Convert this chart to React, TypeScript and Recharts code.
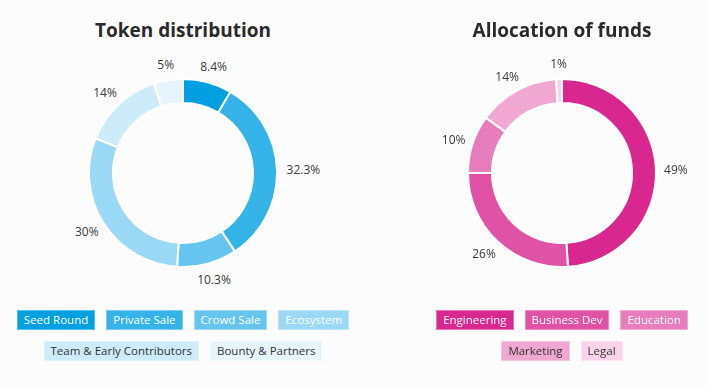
import { PieChart, Pie, Cell } from "recharts";

const tokenNames = ["Seed Round", "Private Sale", "Crowd Sale", "Ecosystem", "Team & Early Contributors", "Bounty & Partners"];
const tokenValues = [8.4, 32.3, 10.3, 30, 14, 5];
const tokenColors = ["#00a0e0", "#33b3e8", "#66c5ee", "#99d9f5", "#cdecf9", "#e6f5fc"];
const tokenTextColors = ["#fff", "#fff", "#fff", "#fff", "#333", "#333"];

const fundNames = ["Engineering", "Business Dev", "Education", "Marketing", "Legal"];
const fundValues = [49, 26, 10, 14, 1];
const fundColors = ["#d8278f", "#e052a5", "#e77dbc", "#f0a8d2", "#f8d3e9"];
const fundTextColors = ["#fff", "#fff", "#fff", "#333", "#333"];

const RADIAN = Math.PI / 180;
const FONT = "'Open Sans', sans-serif";

const renderLabel = (props: any) => {
    const { cx, cy, midAngle, outerRadius, value } = props;
    const text = `${value}%`;
    const halfW = text.length * 3.3;
    const cos = Math.cos(-midAngle * RADIAN);
    const sin = Math.sin(-midAngle * RADIAN);
    const r = outerRadius + 10;
    const x = cx + r * cos + halfW * cos;
    const y = cy + r * sin + 6 * sin;
    return (
        <text x={x} y={y} textAnchor="middle" dominantBaseline="central" fill="#3a3a3a" fontSize={12} fontFamily={FONT}>
            {text}
        </text>
    );
};

const Donut = ({ title, names, values, colors, textColors, left, legendWidth }: any) => {
    const data = names.map((name: string, i: number) => ({ name, value: values[i] }));
    return (
        <div style={{ position: "absolute", left, top: 0, width: 350, fontFamily: FONT }}>
            <div style={{ textAlign: "center", fontSize: 19, fontWeight: 700, color: "#2a2a2a", marginTop: 17, lineHeight: "27px" }}>
                {title}
            </div>
            <PieChart width={350} height={254} margin={{ top: 0, right: 0, bottom: 0, left: 0 }}>
                <Pie
                    data={data}
                    dataKey="value"
                    cx={175}
                    cy={129}
                    innerRadius={70}
                    outerRadius={94}
                    startAngle={90}
                    endAngle={-270}
                    stroke="#fff"
                    strokeWidth={2}
                    label={renderLabel}
                    labelLine={false}
                    isAnimationActive={false}
                >
                    {data.map((_: any, i: number) => (
                        <Cell key={`cell-${i}`} fill={colors[i]} />
                    ))}
                </Pie>
            </PieChart>
            <div
                style={{
                    display: "flex",
                    flexWrap: "wrap",
                    justifyContent: "center",
                    columnGap: "11px",
                    rowGap: "11px",
                    marginTop: 12,
                    width: legendWidth,
                    marginLeft: (350 - legendWidth) / 2,
                }}
            >
                {names.map((name: string, i: number) => (
                    <div
                        key={name}
                        style={{
                            background: colors[i],
                            color: textColors[i],
                            fontSize: 11.5,
                            lineHeight: "18px",
                            padding: "0 6px",
                            border: "1px solid rgba(255,255,255,0.35)",
                            whiteSpace: "nowrap",
                        }}
                    >
                        {name}
                    </div>
                ))}
            </div>
        </div>
    );
};

export default function App() {
    return (
        <div style={{ position: "fixed", left: 0, top: 0, width: 708, height: 387, background: "#fcfcfc" }}>
            <Donut title="Token distribution" names={tokenNames} values={tokenValues} colors={tokenColors} textColors={tokenTextColors} left={8} legendWidth={350} />
            <Donut title="Allocation of funds" names={fundNames} values={fundValues} colors={fundColors} textColors={fundTextColors} left={387} legendWidth={300} />
        </div>
    );
}
